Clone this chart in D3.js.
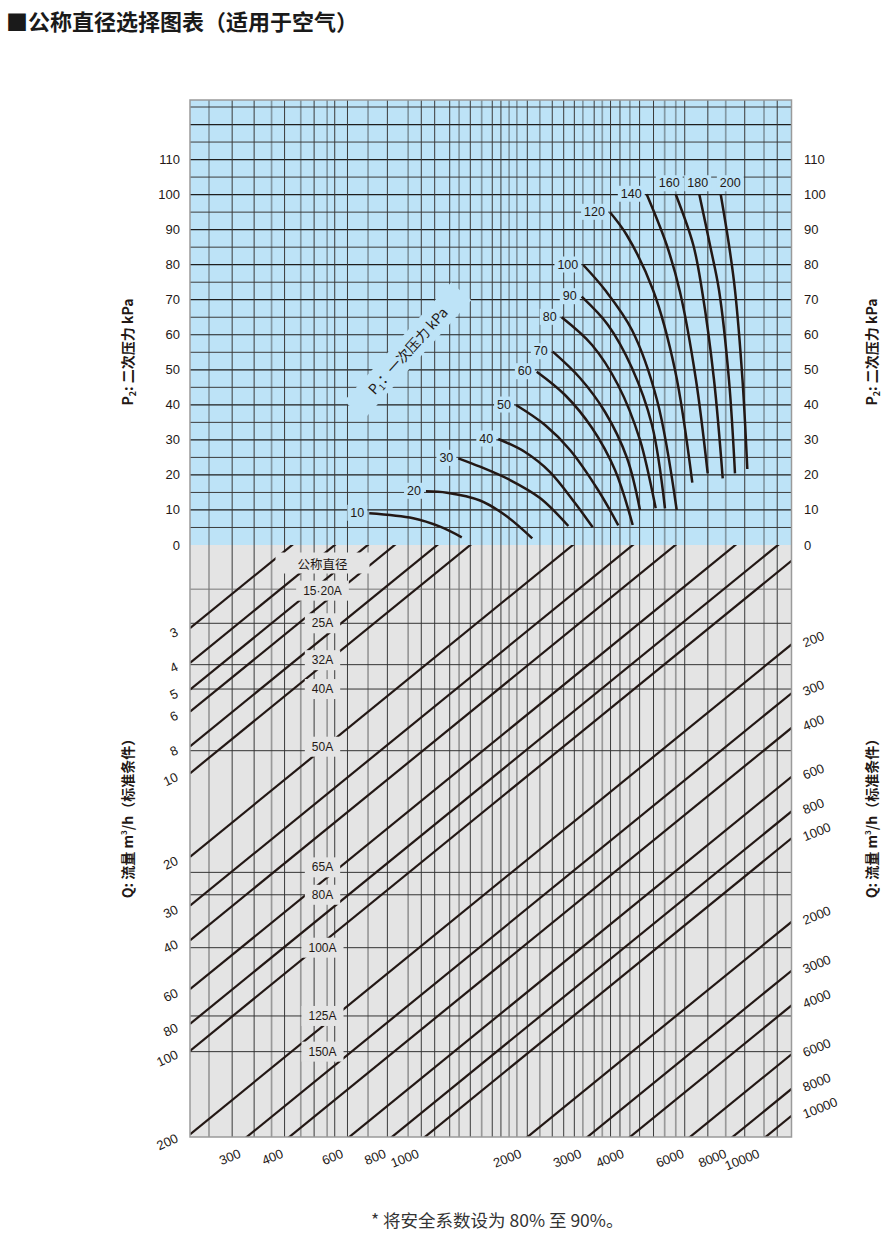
<!DOCTYPE html>
<html><head><meta charset="utf-8">
<script src="https://cdn.jsdelivr.net/npm/d3@7"></script>
<style>body{margin:0;background:#fff}</style>
</head><body>
<svg id="chart" width="892" height="1238"></svg>
<script>
// ---------------- DATA ----------------
const p2TickValues = [0,10,20,30,40,50,60,70,80,90,100,110];
const p2GridValues = [5,10,15,20,25,30,35,40,45,50,55,60,65,70,75,80,85,90,95,100,105,110,115,120,125];
// vertical grid lines (flow index, log axis)
const darkGridX = [2.00,2.32,2.85,3.48,4.00,4.36,5.71,7.18,7.86,8.70,10.0,11.6,12.3,14.7,17.4,18.8,20.2,23.1,25.8,27.5,31.4,34.5,42.6,49.8,63.9,79.6];
const grayGridX = [1.71,2.61,3.18,3.80,5.01,6.57,9.27,10.8,13.0,13.7,16.0,21.4,24.4,29.4,37.2,40.1,56.2,72.8];
// flow lines Q (m3/h)
const qLines = [3,4,5,6,8,10,20,30,40,60,80,100,200,300,400,600,800,1000,2000,3000,4000,6000,8000,10000];
const qLabelsLeft = [3,4,5,6,8,10,20,30,40,60,80,100,200];
const qLabelsBottom = [300,400,600,800,1000,2000,3000,4000,6000,8000,10000];
const qLabelsRight = [200,300,400,600,800,1000,2000,3000,4000,6000,8000,10000];
// nominal diameters and their capacity (Q at left edge)
const diameters = ["15·20A","25A","32A","40A","50A","65A","80A","100A","125A","150A"];
const diameterCapacity = [2.17,2.88,4.06,4.97,8.29,22.75,27.4,42.5,74.9,100.7];
// P1 curves: [flow index, P2 kPa]
const p1Values = [10,20,30,40,50,60,70,80,90,100,120,140,160,180,200];
const p1Curves = [
 [[5.05,9.05],[6.80,7.62],[8.15,5.22],[9.44,2.20]],
 [[7.41,15.33],[8.54,14.93],[10.68,12.70],[12.64,8.56],[15.20,1.91]],
 [[9.22,24.74],[10.68,22.35],[13.08,18.55],[16.02,13.41],[19.40,5.42]],
 [[12.08,30.25],[14.47,26.54],[17.14,20.83],[20.29,11.99],[22.87,5.05]],
 [[13.62,39.95],[16.57,34.25],[19.62,27.11],[23.71,15.70],[27.19,5.62]],
 [[15.67,49.46],[18.97,42.81],[22.77,33.39],[26.59,21.40],[29.97,5.71]],
 [[17.46,55.17],[20.99,47.66],[24.86,37.96],[28.84,24.83],[31.48,9.99]],
 [[18.54,64.98],[22.77,57.08],[27.14,45.66],[31.48,29.97],[35.01,10.47]],
 [[21.23,70.86],[25.36,62.79],[29.82,50.51],[34.14,34.25],[37.28,10.47]],
 [[21.46,79.91],[24.86,72.77],[29.82,61.36],[35.32,41.38],[40.35,9.99]],
 [[25.70,94.95],[28.78,88.47],[34.38,72.77],[39.89,49.94],[44.84,17.78]],
 [[32.94,100.1],[37.71,85.62],[41.26,72.20],[45.97,47.09],[49.75,20.46]],
 [[40.08,100.1],[45.14,85.62],[47.86,72.77],[51.93,47.09],[55.07,19.04]],
 [[47.00,100.1],[50.53,85.62],[53.70,72.77],[57.45,47.09],[59.83,20.46]],
 [[54.32,100.1],[57.45,85.62],[59.83,72.77],[62.95,47.09],[65.03,21.69]]
];

// ---------------- LAYOUT ----------------
const plot = {x0:190, x1:791.5, yTop:100, yMid:545, yBot:1137};
const BLUE = "#bde3f7", GRAY = "#e4e4e4", INK = "#231815";
const LAT = "'Liberation Sans', Arial, Helvetica, sans-serif";
const CJK = "'Noto Sans CJK SC', 'Noto Sans', sans-serif";
const topLabelOffsets = {160:[-6.5,-11], 180:[-1.6,-11], 200:[9.6,-11]};
const diameterLabelDy = {"32A":-4.5, "50A":-4, "65A":-5, "15·20A":1.5};

const svg = d3.select("#chart");
const xScale = d3.scaleLog().domain([1.504, 87.66]).range([plot.x0, plot.x1]);
const yP2 = d3.scaleLinear().domain([0,127]).range([plot.yMid, plot.yTop]);
const qLeft = d3.scaleLog().domain([10,100]).range([773.3, 1050.8]);
const slope = (qLeft(100)-qLeft(10)) / (xScale(100)-xScale(10));
const W = plot.x1 - plot.x0;
const qRightY = q => qLeft(q) - slope*W;
const qBottomX = q => plot.x0 + (qLeft(q)-plot.yBot)/slope;

const defs = svg.append("defs");
defs.append("clipPath").attr("id","clipLow").append("rect")
  .attr("x",plot.x0).attr("y",plot.yMid).attr("width",W).attr("height",plot.yBot-plot.yMid);

// backgrounds
svg.append("rect").attr("x",plot.x0).attr("y",plot.yTop).attr("width",W).attr("height",plot.yMid-plot.yTop).attr("fill",BLUE);
svg.append("rect").attr("x",plot.x0).attr("y",plot.yMid).attr("width",W).attr("height",plot.yBot-plot.yMid).attr("fill",GRAY);

// horizontal grid (upper)
svg.append("g").selectAll("line").data(p2GridValues).join("line")
  .attr("x1",plot.x0).attr("x2",plot.x1)
  .attr("y1",d=>yP2(d)).attr("y2",d=>yP2(d))
  .attr("stroke",d=>d%10===0?"#1e1e1e":"#3c3c3c").attr("stroke-width",d=>d%10===0?1.2:1);

// vertical grid
svg.append("g").selectAll("line").data(grayGridX).join("line")
  .attr("x1",d=>xScale(d)).attr("x2",d=>xScale(d))
  .attr("y1",plot.yTop).attr("y2",plot.yBot)
  .attr("stroke","rgba(50,50,50,0.42)").attr("stroke-width",1.7);
svg.append("g").selectAll("line").data(darkGridX).join("line")
  .attr("x1",d=>xScale(d)).attr("x2",d=>xScale(d))
  .attr("y1",plot.yTop).attr("y2",plot.yBot)
  .attr("stroke","#3a3a3a").attr("stroke-width",1);

// diameter horizontal lines
svg.append("g").selectAll("line").data(diameterCapacity).join("line")
  .attr("x1",plot.x0).attr("x2",plot.x1)
  .attr("y1",d=>qLeft(d)).attr("y2",d=>qLeft(d))
  .attr("stroke",(d,i)=>i===0?"#777":"#333").attr("stroke-width",1);

// flow diagonals
svg.append("g").attr("clip-path","url(#clipLow)").selectAll("line").data(qLines).join("line")
  .attr("x1",plot.x0).attr("y1",d=>qLeft(d))
  .attr("x2",plot.x1).attr("y2",d=>qRightY(d))
  .attr("stroke",INK).attr("stroke-width",2.2);

// border
svg.append("rect").attr("x",plot.x0).attr("y",plot.yTop).attr("width",W).attr("height",plot.yBot-plot.yTop)
  .attr("fill","none").attr("stroke","#9a9a9a").attr("stroke-width",1.5);

// diameter labels with knock-out boxes
const dg = svg.append("g");
const labelX = 322.5;
function boxedLabel(g, x, y, txt, font, size, padX, h, fill){
  const gg = g.append("g");
  const r = gg.append("rect").attr("fill",fill);
  const t = gg.append("text").attr("x",x).attr("y",y).attr("text-anchor","middle")
    .attr("dominant-baseline","central").attr("font-family",font).attr("font-size",size)
    .attr("fill",INK).text(txt);
  const bb = t.node().getBBox();
  r.attr("x",bb.x-padX).attr("y",y-h/2).attr("width",bb.width+2*padX).attr("height",h);
}
boxedLabel(dg, labelX, 563, "公称直径", CJK, 12.5, 22, 21, GRAY);
diameters.forEach((d,i)=>{
  const y = qLeft(diameterCapacity[i]) + (diameterLabelDy[d]||0);
  boxedLabel(dg, labelX, y, d, LAT, 12, 7, 20, GRAY);
});

// P1 curves
const line = d3.line().x(d=>xScale(d[0])).y(d=>yP2(d[1])).curve(d3.curveCatmullRom.alpha(0.5));
const cg = svg.append("g");
p1Curves.forEach((pts,i)=>{
  cg.append("path").attr("d",line(pts)).attr("fill","none").attr("stroke",INK)
    .attr("stroke-width",2.5).attr("stroke-linecap","butt");
});
// curve labels
const lg = svg.append("g");
p1Values.forEach((p,i)=>{
  const s = p1Curves[i][0];
  const sx = xScale(s[0]), sy = yP2(s[1]);
  const gg = lg.append("g");
  const r = gg.append("rect").attr("fill",BLUE);
  let t;
  if (topLabelOffsets[p]) {
    const o = topLabelOffsets[p];
    t = gg.append("text").attr("x",sx+o[0]).attr("y",sy+o[1]).attr("text-anchor","middle");
  } else {
    t = gg.append("text").attr("x",sx-5).attr("y",sy-0.5).attr("text-anchor","end");
  }
  t.attr("dominant-baseline","central").attr("font-family",LAT).attr("font-size",12.5).attr("fill",INK).text(p);
  const bb = t.node().getBBox();
  r.attr("x",bb.x-3).attr("y",bb.y-1).attr("width",bb.width+6).attr("height",bb.height+2);
});

// P1 axis label
const p1g = svg.append("g").attr("transform","translate(408,351) rotate(-48)");
p1g.append("rect").attr("x",-80).attr("y",-14).attr("width",160).attr("height",27).attr("fill",BLUE);
const p1t = p1g.append("text").attr("x",0).attr("y",5).attr("text-anchor","middle")
  .attr("font-family",CJK).attr("font-size",14).attr("fill",INK);
p1t.append("tspan").text("P");
p1t.append("tspan").attr("font-size",9).attr("dy",3).text("1");
p1t.append("tspan").attr("dy",-3).text("：一次压力 kPa");

// P2 tick labels
const tk = svg.append("g").attr("font-family",LAT).attr("font-size",13).attr("fill",INK);
tk.selectAll("text.l").data(p2TickValues).join("text").attr("class","l")
  .attr("x",180).attr("y",d=>yP2(d)+4.5).attr("text-anchor","end").text(d=>d);
tk.selectAll("text.r").data(p2TickValues).join("text").attr("class","r")
  .attr("x",804).attr("y",d=>yP2(d)+4.5).attr("text-anchor","start").text(d=>d);

// Q labels
const qg = svg.append("g").attr("font-family",LAT).attr("font-size",13).attr("fill",INK);
qLabelsLeft.forEach(q=>{
  const y = qLeft(q)+7;
  qg.append("text").attr("transform",`translate(179,${y}) rotate(-25)`).attr("text-anchor","end").text(q);
});
qLabelsBottom.forEach(q=>{
  const x = qBottomX(q)-5;
  qg.append("text").attr("transform",`translate(${x},1157) rotate(-22)`).attr("text-anchor","end").text(q);
});
qLabelsRight.forEach(q=>{
  const y = qRightY(q)+3;
  qg.append("text").attr("transform",`translate(805,${y}) rotate(-22)`).attr("text-anchor","start").text(q);
});

// axis titles
function p2Title(x){
  const t = svg.append("text").attr("transform",`translate(${x},352) rotate(-90)`).attr("text-anchor","middle")
    .attr("font-family",CJK).attr("font-weight","bold").attr("font-size",14).attr("fill",INK);
  t.append("tspan").text("P");
  t.append("tspan").attr("font-size",9).attr("dy",3).text("2");
  t.append("tspan").attr("dy",-3).text(": 二次压力 kPa");
}
p2Title(133); p2Title(877);
function qTitle(x){
  const t = svg.append("text").attr("transform",`translate(${x},815) rotate(-90)`).attr("text-anchor","middle")
    .attr("font-family",CJK).attr("font-weight","bold").attr("font-size",14).attr("fill",INK);
  t.append("tspan").text("Q: 流量 m");
  t.append("tspan").attr("font-size",8).attr("dy",-6).text("3");
  t.append("tspan").attr("dy",6).text("/h（标准条件）");
}
qTitle(133); qTitle(877);

// title & footnote
svg.append("text").attr("x",6).attr("y",30).attr("font-family",CJK).attr("font-weight","bold")
  .attr("font-size",22).attr("fill","#1a1a1a").text("■公称直径选择图表（适用于空气）");
svg.append("text").attr("x",371).attr("y",1227).attr("font-family",CJK)
  .attr("font-size",17.5).attr("fill","#333").text("* 将安全系数设为 80% 至 90%。");
</script>
</body></html>
